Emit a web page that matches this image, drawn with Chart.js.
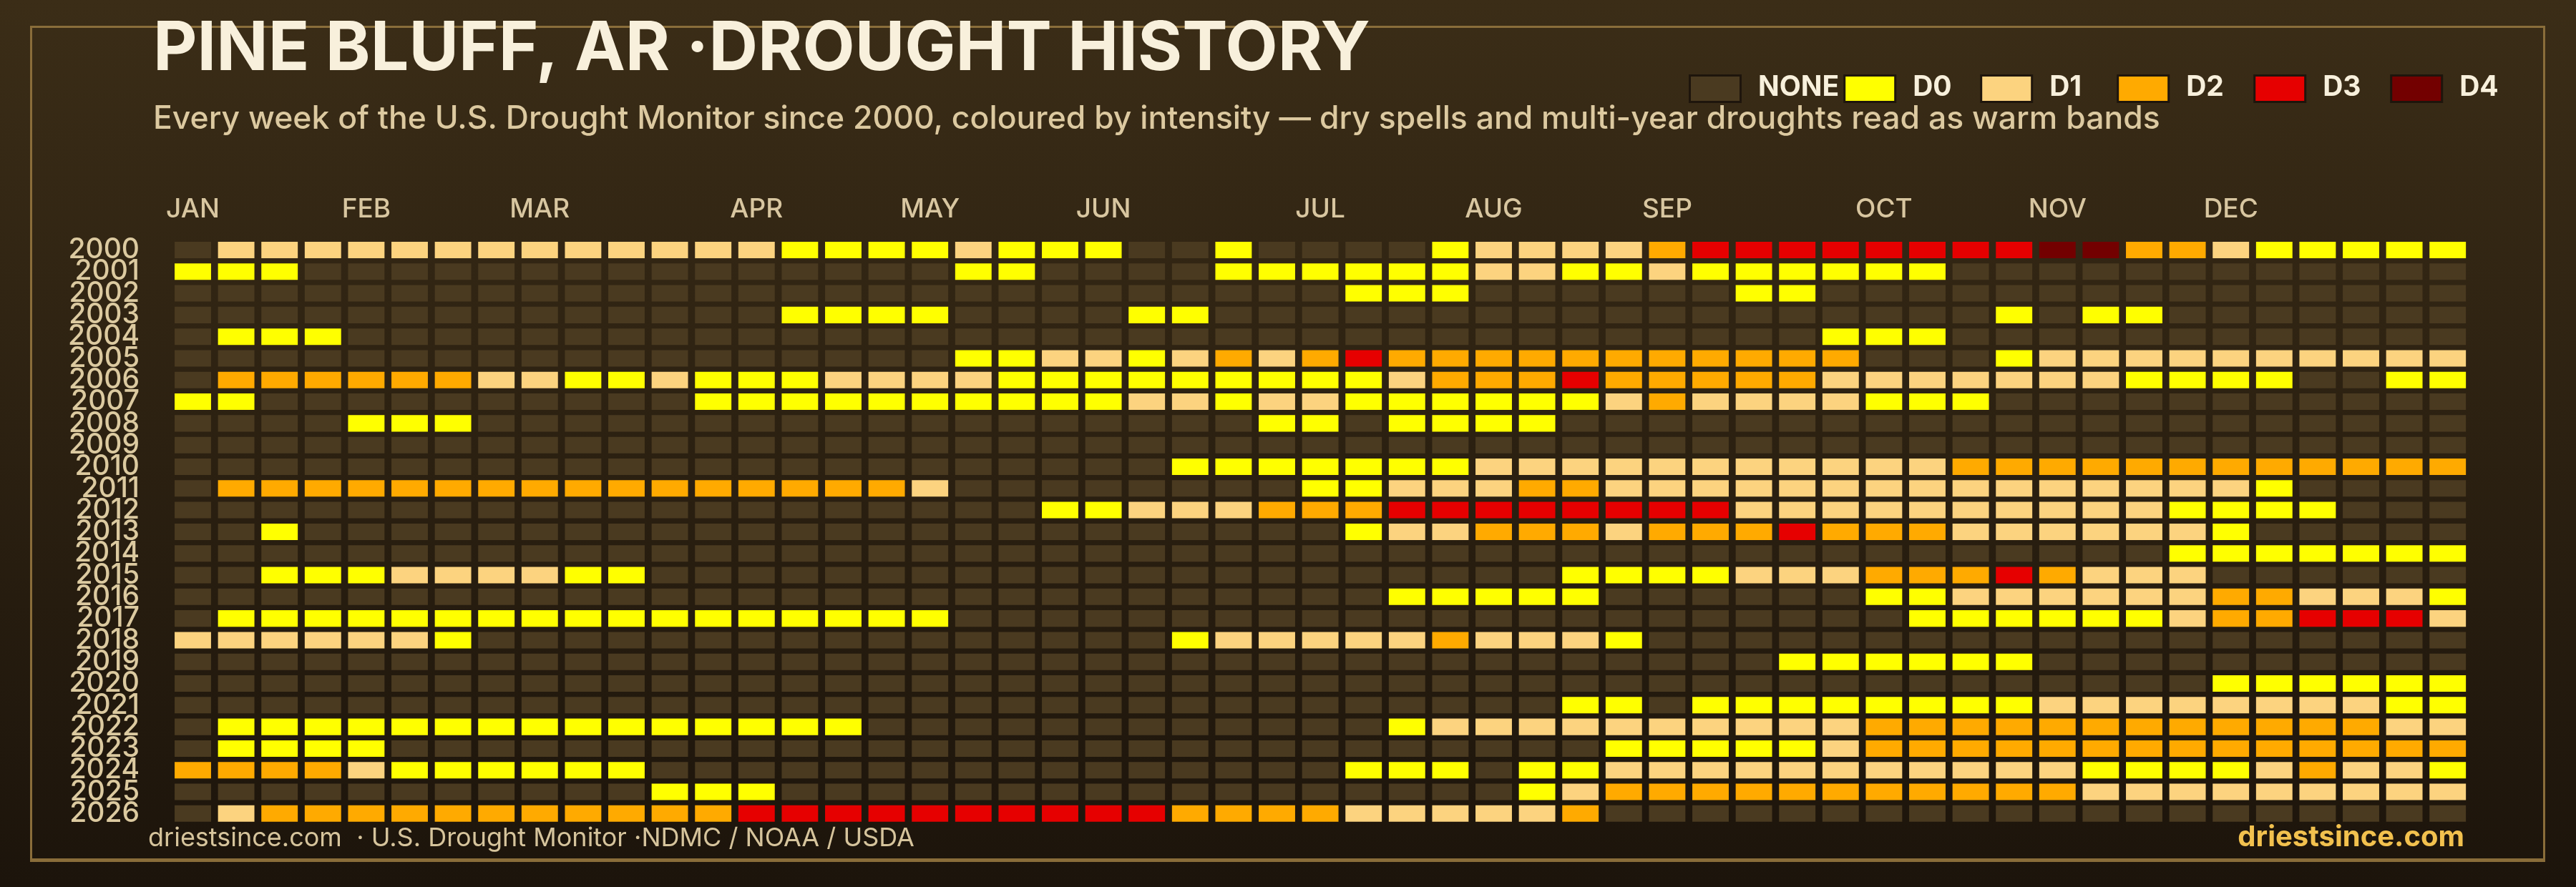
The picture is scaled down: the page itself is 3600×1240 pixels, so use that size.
<!DOCTYPE html>
<html>
<head>
<meta charset="utf-8">
<script src="https://cdn.jsdelivr.net/npm/chart.js@4.4.1/dist/chart.umd.min.js"></script>
<style>
html,body{margin:0;padding:0;background:#2a1f10;}
canvas{display:block;}
</style>
</head>
<body>
<canvas id="c" width="3600" height="1240" style="width:3600px;height:1240px"></canvas>
<script>
// ---- data (drought level per week: -1 = none, 0..4 = D0..D4) ----
const _ = -1;
const years = ['2000','2001','2002','2003','2004','2005','2006','2007','2008','2009','2010','2011','2012','2013','2014','2015','2016','2017','2018','2019','2020','2021','2022','2023','2024','2025','2026'];
const levelNames = ['NONE','D0','D1','D2','D3','D4'];
const levelColors = ['#4a3a20','#ffff00','#fcd37f','#ffaa00','#e60000','#730000'];
const monthNames = ['JAN','FEB','MAR','APR','MAY','JUN','JUL','AUG','SEP','OCT','NOV','DEC'];
const monthWeeks = [0,4,8,13,17,21,26,30,34,39,43,47];

const w2000 = [_,1,1,1,1,1,1,1,1,1, 1,1,1,1,0,0,0,0,1,0, 0,0,_,_,0,_,_,_,_,0, 1,1,1,1,2,3,3,3,3,3, 3,3,3,4,4,2,2,1,0,0, 0,0,0];
const w2001 = [0,0,0,_,_,_,_,_,_,_, _,_,_,_,_,_,_,_,0,0, _,_,_,_,0,0,0,0,0,0, 1,1,0,0,1,0,0,0,0,0, 0,_,_,_,_,_,_,_,_,_, _,_,_];
const w2002 = [_,_,_,_,_,_,_,_,_,_, _,_,_,_,_,_,_,_,_,_, _,_,_,_,_,_,_,0,0,0, _,_,_,_,_,_,0,0,_,_, _,_,_,_,_,_,_,_,_,_, _,_,_];
const w2003 = [_,_,_,_,_,_,_,_,_,_, _,_,_,_,0,0,0,0,_,_, _,_,0,0,_,_,_,_,_,_, _,_,_,_,_,_,_,_,_,_, _,_,0,_,0,0,_,_,_,_, _,_,_];
const w2004 = [_,0,0,0,_,_,_,_,_,_, _,_,_,_,_,_,_,_,_,_, _,_,_,_,_,_,_,_,_,_, _,_,_,_,_,_,_,_,0,0, 0,_,_,_,_,_,_,_,_,_, _,_,_];
const w2005 = [_,_,_,_,_,_,_,_,_,_, _,_,_,_,_,_,_,_,0,0, 1,1,0,1,2,1,2,3,2,2, 2,2,2,2,2,2,2,2,2,_, _,_,0,1,1,1,1,1,1,1, 1,1,1];
const w2006 = [_,2,2,2,2,2,2,1,1,0, 0,1,0,0,0,1,1,1,1,0, 0,0,0,0,0,0,0,0,1,2, 2,2,3,2,2,2,2,2,1,1, 1,1,1,1,1,0,0,0,0,_, _,0,0];
const w2007 = [0,0,_,_,_,_,_,_,_,_, _,_,0,0,0,0,0,0,0,0, 0,0,1,1,0,1,1,0,0,0, 0,0,0,1,2,1,1,1,1,0, 0,0,_,_,_,_,_,_,_,_, _,_,_];
const w2008 = [_,_,_,_,0,0,0,_,_,_, _,_,_,_,_,_,_,_,_,_, _,_,_,_,_,0,0,_,0,0, 0,0,_,_,_,_,_,_,_,_, _,_,_,_,_,_,_,_,_,_, _,_,_];
const w2009 = [_,_,_,_,_,_,_,_,_,_, _,_,_,_,_,_,_,_,_,_, _,_,_,_,_,_,_,_,_,_, _,_,_,_,_,_,_,_,_,_, _,_,_,_,_,_,_,_,_,_, _,_,_];
const w2010 = [_,_,_,_,_,_,_,_,_,_, _,_,_,_,_,_,_,_,_,_, _,_,_,0,0,0,0,0,0,0, 1,1,1,1,1,1,1,1,1,1, 1,2,2,2,2,2,2,2,2,2, 2,2,2];
const w2011 = [_,2,2,2,2,2,2,2,2,2, 2,2,2,2,2,2,2,1,_,_, _,_,_,_,_,_,0,0,1,1, 1,2,2,1,1,1,1,1,1,1, 1,1,1,1,1,1,1,1,0,_, _,_,_];
const w2012 = [_,_,_,_,_,_,_,_,_,_, _,_,_,_,_,_,_,_,_,_, 0,0,1,1,1,2,2,2,3,3, 3,3,3,3,3,3,1,1,1,1, 1,1,1,1,1,1,0,0,0,0, _,_,_];
const w2013 = [_,_,0,_,_,_,_,_,_,_, _,_,_,_,_,_,_,_,_,_, _,_,_,_,_,_,_,0,1,1, 2,2,2,1,2,2,2,3,2,2, 2,1,1,1,1,1,1,0,_,_, _,_,_];
const w2014 = [_,_,_,_,_,_,_,_,_,_, _,_,_,_,_,_,_,_,_,_, _,_,_,_,_,_,_,_,_,_, _,_,_,_,_,_,_,_,_,_, _,_,_,_,_,_,0,0,0,0, 0,0,0];
const w2015 = [_,_,0,0,0,1,1,1,1,0, 0,_,_,_,_,_,_,_,_,_, _,_,_,_,_,_,_,_,_,_, _,_,0,0,0,0,1,1,1,2, 2,2,3,2,1,1,1,_,_,_, _,_,_];
const w2016 = [_,_,_,_,_,_,_,_,_,_, _,_,_,_,_,_,_,_,_,_, _,_,_,_,_,_,_,_,0,0, 0,0,0,_,_,_,_,_,_,0, 0,1,1,1,1,1,1,2,2,1, 1,1,0];
const w2017 = [_,0,0,0,0,0,0,0,0,0, 0,0,0,0,0,0,0,0,_,_, _,_,_,_,_,_,_,_,_,_, _,_,_,_,_,_,_,_,_,_, 0,0,0,0,0,0,1,2,2,3, 3,3,1];
const w2018 = [1,1,1,1,1,1,0,_,_,_, _,_,_,_,_,_,_,_,_,_, _,_,_,0,1,1,1,1,1,2, 1,1,1,0,_,_,_,_,_,_, _,_,_,_,_,_,_,_,_,_, _,_,_];
const w2019 = [_,_,_,_,_,_,_,_,_,_, _,_,_,_,_,_,_,_,_,_, _,_,_,_,_,_,_,_,_,_, _,_,_,_,_,_,_,0,0,0, 0,0,0,_,_,_,_,_,_,_, _,_,_];
const w2020 = [_,_,_,_,_,_,_,_,_,_, _,_,_,_,_,_,_,_,_,_, _,_,_,_,_,_,_,_,_,_, _,_,_,_,_,_,_,_,_,_, _,_,_,_,_,_,_,0,0,0, 0,0,0];
const w2021 = [_,_,_,_,_,_,_,_,_,_, _,_,_,_,_,_,_,_,_,_, _,_,_,_,_,_,_,_,_,_, _,_,0,0,_,0,0,0,0,0, 0,0,0,1,1,1,1,1,1,1, 1,0,0];
const w2022 = [_,0,0,0,0,0,0,0,0,0, 0,0,0,0,0,0,_,_,_,_, _,_,_,_,_,_,_,_,0,1, 1,1,1,1,1,1,1,1,1,2, 2,2,2,2,2,2,2,2,2,2, 2,1,1];
const w2023 = [_,0,0,0,0,_,_,_,_,_, _,_,_,_,_,_,_,_,_,_, _,_,_,_,_,_,_,_,_,_, _,_,_,0,0,0,0,0,1,2, 2,2,2,2,2,2,2,2,2,2, 2,2,2];
const w2024 = [2,2,2,2,1,0,0,0,0,0, 0,_,_,_,_,_,_,_,_,_, _,_,_,_,_,_,_,0,0,0, _,0,0,1,1,1,1,1,1,1, 1,1,1,1,0,0,0,0,1,2, 1,1,0];
const w2025 = [_,_,_,_,_,_,_,_,_,_, _,0,0,0,_,_,_,_,_,_, _,_,_,_,_,_,_,_,_,_, _,0,1,2,2,2,2,2,2,2, 2,2,2,2,1,1,1,1,1,1, 1,1,1];
const w2026 = [_,1,2,2,2,2,2,2,2,2, 2,2,2,3,3,3,3,3,3,3, 3,3,3,2,2,2,2,1,1,1, 1,1,2,_,_,_,_,_,_,_, _,_,_,_,_,_,_,_,_,_, _,_,_];

const levels = [w2000,w2001,w2002,w2003,w2004,w2005,w2006,w2007,w2008,w2009,w2010,w2011,w2012,w2013,w2014,w2015,w2016,w2017,w2018,w2019,w2020,w2021,w2022,w2023,w2024,w2025,w2026];

const titleText = 'PINE BLUFF, AR \u00B7DROUGHT HISTORY';
const subtitleText = 'Every week of the U.S. Drought Monitor since 2000, coloured by intensity \u2014 dry spells and multi-year droughts read as warm bands';
const footLeft = 'driestsince.com  \u00B7 U.S. Drought Monitor \u00B7NDMC / NOAA / USDA';
const footRight = 'driestsince.com';

// ---- chart ----
const FONT = 'Inter, "Open Sans", "DejaVu Sans", sans-serif';
Chart.defaults.font.family = FONT;

const datasets = years.map((yr, yi) => ({
  label: yr,
  data: levels[yi].map((lv, w) => ({ y: yr, x: [w - 0.42, w + 0.42] })),
  backgroundColor: levels[yi].map(lv => levelColors[lv + 1]),
  borderWidth: 0,
  grouped: false,
  barPercentage: 0.76,
  categoryPercentage: 1
}));

const PAD_LEFT = 214;
const Y_AXIS_W = 25.2;
const YEAR_RIGHT = 195;
const TITLE_SIZE = 95, SUB_SIZE = 44.5;
const TITLE_PAD = 22, SUB_PAD = 27;
const CHART_TOP = 334.3;
const TITLE_H = TITLE_PAD + TITLE_SIZE;
const SUB_H = SUB_PAD + SUB_SIZE;
const YEAR_FONT = { size: 39, weight: '500' };

// width of the widest year label, so mirrored labels can be right-aligned at YEAR_RIGHT
const mctx = document.createElement('canvas').getContext('2d');
mctx.font = YEAR_FONT.weight + ' ' + YEAR_FONT.size + 'px ' + FONT;
const widestYear = Math.max(...years.map(y => mctx.measureText(y).width));
const yPad = (YEAR_RIGHT - (PAD_LEFT + Y_AXIS_W)) - widestYear;

const decor = {
  id: 'decor',
  beforeDraw(chart) {
    const ctx = chart.ctx, W = chart.width, H = chart.height;
    ctx.save();
    const g = ctx.createLinearGradient(0, 0, 0, H);
    g.addColorStop(0, '#3b2d17');
    g.addColorStop(1, '#1c140b');
    ctx.fillStyle = g;
    ctx.fillRect(0, 0, W, H);
    ctx.strokeStyle = '#8a6d3a';
    ctx.lineWidth = 3;
    ctx.strokeRect(43.5, 37.5, 3512, 1165);
    ctx.fillStyle = '#8a6d3a';
    ctx.fillRect(42, 1200, 3515, 5);
    ctx.restore();
  },
  afterDraw(chart) {
    const ctx = chart.ctx;
    ctx.save();
    // legend
    ctx.font = 'bold 39px ' + FONT;
    ctx.textBaseline = 'middle';
    ctx.textAlign = 'left';
    let x = 2360;
    levelNames.forEach((name, i) => {
      ctx.fillStyle = '#1e150c';
      ctx.fillRect(x, 104, 74, 40);
      ctx.fillStyle = levelColors[i];
      ctx.fillRect(x + 3, 107, 68, 34);
      ctx.fillStyle = '#f8f0dc';
      ctx.fillText(name, x + 97, 122);
      const tw = ctx.measureText(name).width;
      x += Math.max(191, 97 + tw + 6);
    });
    // footer
    ctx.font = '36px ' + FONT;
    ctx.fillStyle = '#d6c49c';
    ctx.fillText(footLeft, 207, 1172);
    ctx.font = 'bold 40px ' + FONT;
    ctx.fillStyle = '#f2c14e';
    ctx.textAlign = 'right';
    ctx.fillText(footRight, 3444, 1171);
    ctx.restore();
  }
};

new Chart(document.getElementById('c'), {
  type: 'bar',
  data: { labels: years, datasets },
  plugins: [decor],
  options: {
    indexAxis: 'y',
    responsive: false,
    devicePixelRatio: 1,
    animation: false,
    layout: { padding: { left: PAD_LEFT, right: 149, top: 0, bottom: 87.5 } },
    plugins: {
      legend: { display: false },
      tooltip: { enabled: false },
      title: {
        display: true, text: titleText, align: 'start', color: '#f8f0dc',
        font: { size: TITLE_SIZE, weight: 'bold', lineHeight: 1 },
        padding: { top: TITLE_PAD, bottom: 0 }
      },
      subtitle: {
        display: true, text: subtitleText, align: 'start', color: '#dcc9a0',
        font: { size: SUB_SIZE, weight: '500', lineHeight: 1 },
        padding: { top: SUB_PAD, bottom: 0 }
      }
    },
    scales: {
      x: {
        type: 'linear', position: 'top', min: -0.5, max: 52.5,
        grid: { display: false, drawTicks: false }, border: { display: false },
        afterBuildTicks: (s) => { s.ticks = monthWeeks.map(v => ({ value: v })); },
        afterFit: (s) => { s.height = CHART_TOP - TITLE_H - SUB_H; },
        ticks: {
          autoSkip: false, maxRotation: 0, minRotation: 0, padding: 19,
          color: '#d8c6a0', font: { size: 37, weight: '500' },
          callback: (v, i) => monthNames[i]
        }
      },
      y: {
        type: 'category', offset: true,
        grid: { display: false, drawTicks: false }, border: { display: false },
        afterFit: (s) => { s.width = Y_AXIS_W; },
        ticks: {
          autoSkip: false, mirror: true, crossAlign: 'far', padding: yPad,
          color: '#dccaa0', font: YEAR_FONT
        }
      }
    }
  }
});
</script>
</body>
</html>
